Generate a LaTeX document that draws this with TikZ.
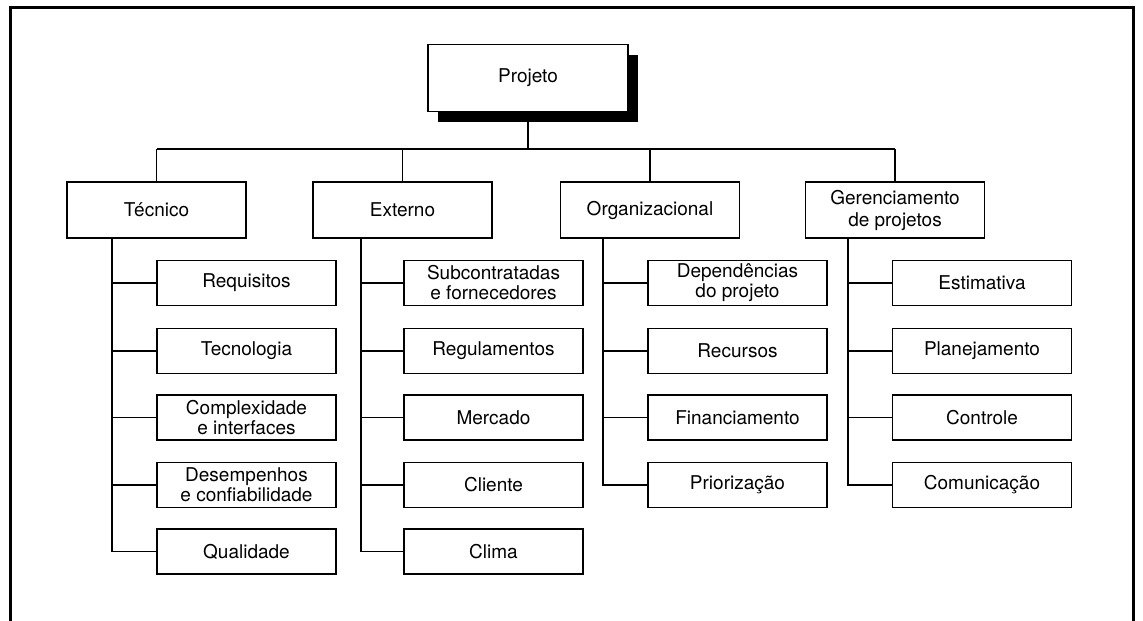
\documentclass[tikz,border=0pt]{standalone}
\usepackage{fontspec}
\setmainfont{TeX Gyre Heros}
\begin{document}
\begin{tikzpicture}[x=1pt,y=-1pt,
  box/.style={draw, line width=1.8pt, fill=white, inner sep=0pt, align=center,
    font=\fontsize{19}{20}\selectfont},
  head/.style={box, minimum width=179pt, minimum height=56pt},
  leaf/.style={box, minimum width=179pt, minimum height=45pt},
  conn/.style={line width=1.8pt}]
\useasboundingbox (0,0) rectangle (1143,621);
\draw[line width=3pt] (10,621) -- (10,7) -- (1133,7) -- (1133,621);

% root with shadow
\node[fill=black, minimum width=200pt, minimum height=67pt, inner sep=0pt] (pshadow) at (538,88) {};
\node[box, minimum width=200pt, minimum height=67pt] (p) at (528,78) {Projeto};

% heads
\node[head] (t) at (156.5,210) {Técnico};
\node[head] (e) at (402.5,210) {Externo};
\node[head] (o) at (650,210) {Organizacional};
\node[head, font=\fontsize{19}{22}\selectfont] (g) at (895,210) {Gerenciamento\\de projetos};

\coordinate (bus) at (0,149);
\draw[conn] (t.north |- bus) -- (g.north |- bus);
\draw[conn] (p.south) -- (p.south |- bus);
\foreach \n in {t,e,o,g} \draw[conn] (\n.north) -- (\n.north |- bus);

% Técnico children
\node[leaf] (t1) at (246.5,283) {Requisitos};
\node[leaf] (t2) at (246.5,351) {Tecnologia};
\node[leaf] (t3) at (246.5,417.5) {Complexidade\\e interfaces};
\node[leaf] (t4) at (246.5,485) {Desempenhos\\e confiabilidade};
\node[leaf] (t5) at (246.5,551.5) {Qualidade};
% Externo children
\node[leaf] (e1) at (493.5,283) {Subcontratadas\\e fornecedores};
\node[leaf] (e2) at (493.5,351) {Regulamentos};
\node[leaf] (e3) at (493.5,417.5) {Mercado};
\node[leaf] (e4) at (493.5,485) {Cliente};
\node[leaf] (e5) at (493.5,551.5) {Clima};
% Organizacional children
\node[leaf] (o1) at (737.5,283) {Dependências\\do projeto};
\node[leaf] (o2) at (737.5,351) {Recursos};
\node[leaf] (o3) at (737.5,417.5) {Financiamento};
\node[leaf] (o4) at (737.5,485) {Priorização};
% Gerenciamento children
\node[leaf] (g1) at (982,283) {Estimativa};
\node[leaf] (g2) at (982,351) {Planejamento};
\node[leaf] (g3) at (982,417.5) {Controle};
\node[leaf] (g4) at (982,485) {Comunicação};

\coordinate (tt) at (112,238);
\coordinate (et) at (361,238);
\coordinate (ot) at (603,238);
\coordinate (gt) at (848,238);
\draw[conn] (t.south -| tt) |- (t5.west);
\foreach \c in {t1,t2,t3,t4} \draw[conn] (tt |- \c.west) -- (\c.west);
\draw[conn] (e.south -| et) |- (e5.west);
\foreach \c in {e1,e2,e3,e4} \draw[conn] (et |- \c.west) -- (\c.west);
\draw[conn] (o.south -| ot) |- (o4.west);
\foreach \c in {o1,o2,o3} \draw[conn] (ot |- \c.west) -- (\c.west);
\draw[conn] (g.south -| gt) |- (g4.west);
\foreach \c in {g1,g2,g3} \draw[conn] (gt |- \c.west) -- (\c.west);
\end{tikzpicture}
\end{document}
